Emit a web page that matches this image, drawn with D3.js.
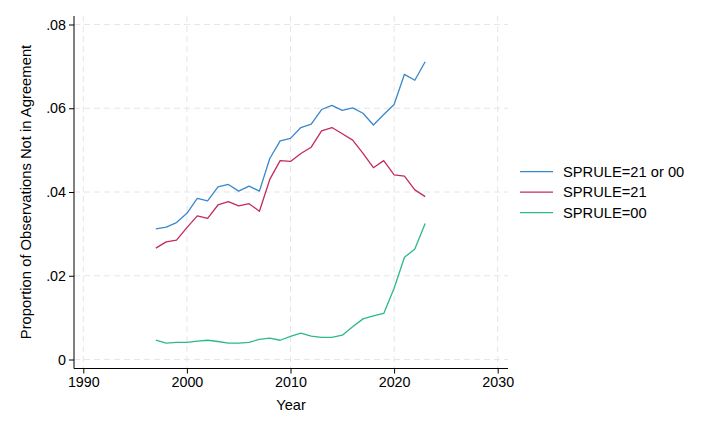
<!DOCTYPE html>
<html><head><meta charset="utf-8">
<script src="https://cdn.jsdelivr.net/npm/d3@7"></script>
<style>body{margin:0;background:#fff}svg{display:block}text{font-family:"Liberation Sans",Arial,sans-serif;fill:#000}</style>
</head><body><svg id="c" width="720" height="432"></svg>
<script>
const years = d3.range(1997, 2024);
const seriesNames = ["SPRULE=21 or 00", "SPRULE=21", "SPRULE=00"];
const s21or00 = [0.0312,0.0316,0.0327,0.0349,0.0385,0.0379,0.0412,0.0418,0.0402,0.0414,0.0402,0.0480,0.0522,0.0528,0.0554,0.0562,0.0597,0.0607,0.0595,0.0601,0.0588,0.0560,0.0585,0.0609,0.0681,0.0667,0.0711];
const s21 = [0.0266,0.0281,0.0285,0.0315,0.0343,0.0337,0.0369,0.0377,0.0367,0.0372,0.0354,0.0430,0.0475,0.0473,0.0492,0.0507,0.0546,0.0554,0.0539,0.0524,0.0492,0.0458,0.0475,0.0441,0.0438,0.0405,0.0389];
const s00 = [0.0046,0.0039,0.0041,0.0041,0.0044,0.0046,0.0043,0.0039,0.0039,0.0041,0.0048,0.0051,0.0046,0.0055,0.0063,0.0056,0.0053,0.0053,0.0058,0.0078,0.0097,0.0104,0.0110,0.0170,0.0244,0.0264,0.0325];
const xTicks = [1990, 2000, 2010, 2020, 2030];
const yTicks = [0, 0.02, 0.04, 0.06, 0.08];
const yTickLabels = ["0", ".02", ".04", ".06", ".08"];
const colors = ["#3a87cc", "#c42a5e", "#2bb98a"];

const svg = d3.select("#c");
const x = d3.scaleLinear().domain([1990, 2030]).range([83.3, 497.7]);
const y = d3.scaleLinear().domain([0, 0.08]).range([359.5, 24.5]);
const pLeft = 74, pBottom = 368.5, pRight = 508, pTop = 16;

// gridlines
const g = svg.append("g");
g.selectAll("line.h").data(yTicks).join("line")
  .attr("x1", pLeft).attr("x2", pRight).attr("y1", d => y(d)).attr("y2", d => y(d))
  .attr("stroke", "#e6e6e6").attr("stroke-width", 1).attr("stroke-dasharray", "6,4");
g.selectAll("line.v").data(xTicks).join("line")
  .attr("x1", d => x(d)).attr("x2", d => x(d)).attr("y1", pTop).attr("y2", pBottom)
  .attr("stroke", "#e6e6e6").attr("stroke-width", 1).attr("stroke-dasharray", "6,4");

// axes
const yAxis = d3.axisLeft(y).tickValues(yTicks).tickFormat((d, i) => yTickLabels[i]).tickSize(5).tickPadding(3);
const ya = svg.append("g").attr("transform", `translate(${pLeft},0)`).call(yAxis);
ya.select(".domain").attr("d", `M0,${pTop}V${pBottom}`).attr("stroke", "#000");
ya.selectAll("text").attr("font-size", 14.3).attr("font-family", "Liberation Sans, Arial, sans-serif").attr("fill", "#000");

const xAxis = d3.axisBottom(x).tickValues(xTicks).tickFormat(d3.format("d")).tickSize(5).tickPadding(3);
const xa = svg.append("g").attr("transform", `translate(0,${pBottom})`).call(xAxis);
xa.select(".domain").attr("d", `M${pLeft},0H${pRight}`).attr("stroke", "#000");
xa.selectAll("text").attr("font-size", 14.3).attr("font-family", "Liberation Sans, Arial, sans-serif").attr("fill", "#000");

// axis titles
svg.append("text").attr("transform", "translate(30.5,192) rotate(-90)").attr("text-anchor", "middle")
  .attr("font-size", 14.8).text("Proportion of Observations Not in Agreement");
svg.append("text").attr("x", 291).attr("y", 409.5).attr("text-anchor", "middle")
  .attr("font-size", 14.6).text("Year");

// lines
const allSeries = [s21or00, s21, s00];
const line = d3.line().x((d, i) => x(years[i])).y(d => y(d));
svg.append("g").selectAll("path").data(allSeries).join("path")
  .attr("d", line).attr("fill", "none").attr("stroke", (d, i) => colors[i]).attr("stroke-width", 1.3)
  .attr("stroke-linejoin", "round");

// legend
const lg = svg.append("g");
seriesNames.forEach((n, i) => {
  const ly = 171.7 + i * 20.5;
  lg.append("line").attr("x1", 520).attr("x2", 553).attr("y1", ly).attr("y2", ly)
    .attr("stroke", colors[i]).attr("stroke-width", 1.3);
  lg.append("text").attr("x", 563).attr("y", ly + 5.2).attr("font-size", 14.7).text(n);
});
</script></body></html>
